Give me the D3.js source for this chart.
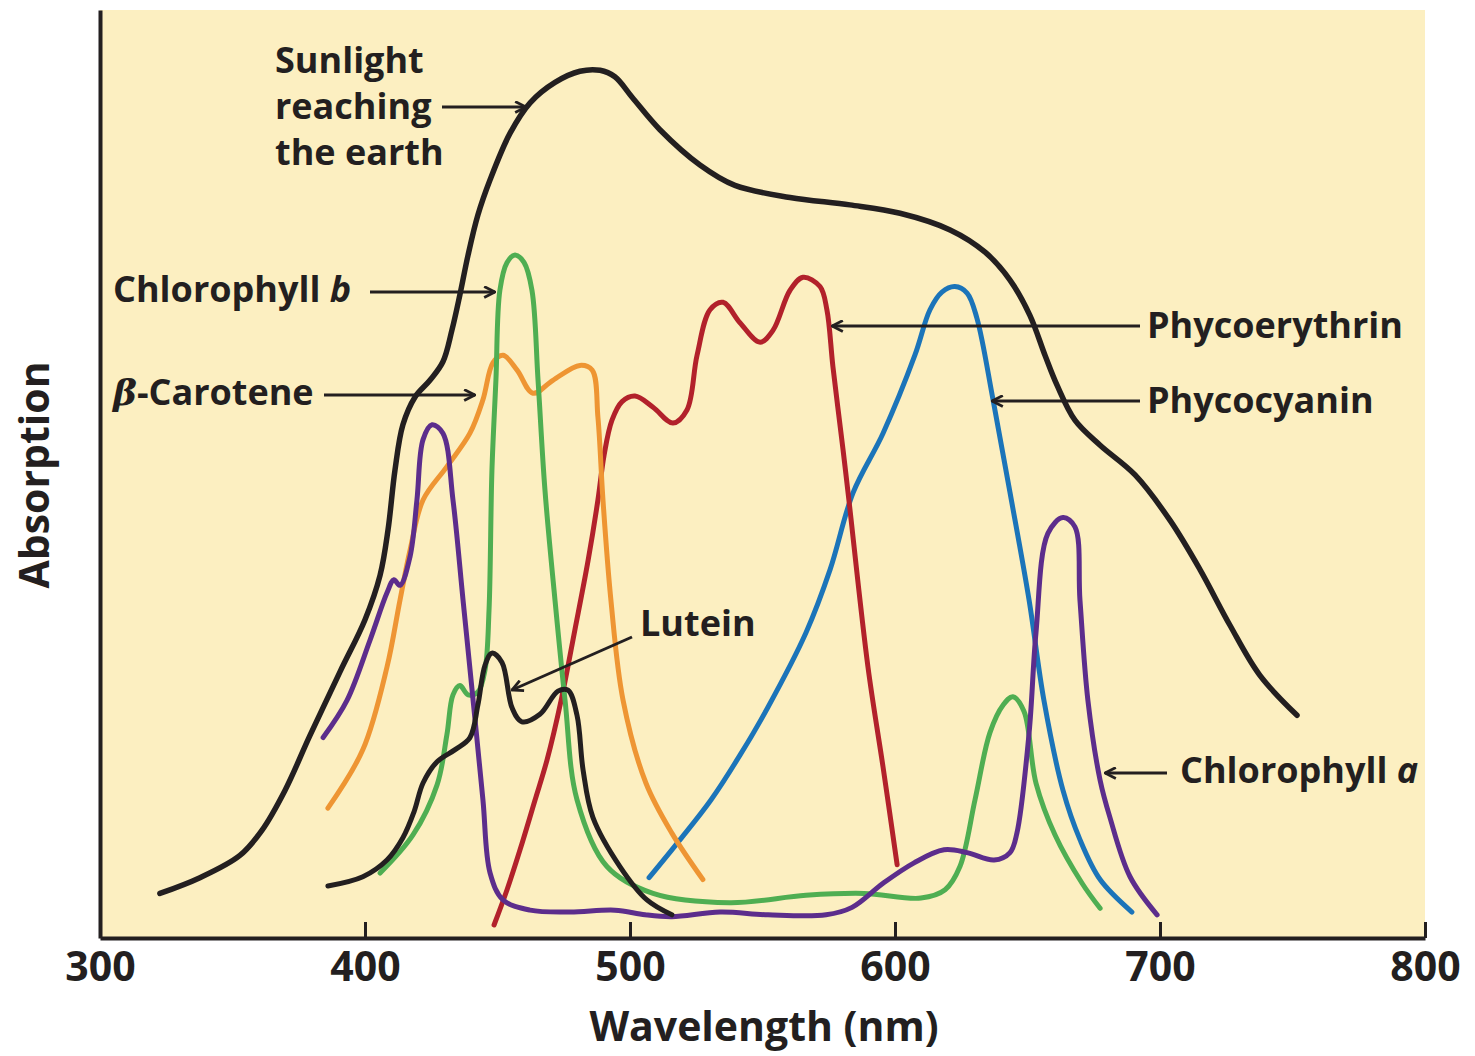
<!DOCTYPE html>
<html>
<head>
<meta charset="utf-8">
<script src="https://cdn.jsdelivr.net/npm/d3@7"></script>
<style>
    html, body { margin: 0; padding: 0; background: #ffffff; }
    svg { display: block; }
    text { font-family: "Open Sans", "Noto Sans", sans-serif; font-weight: 700; fill: #231f20; }
</style>
</head>
<body>
<svg id="chart" width="1475" height="1056"></svg>
<script>
    'use strict';

    // wavelength (nm), relative absorption (0-100)
    var sunlight = [
        [322.6, 4.8], [337.7, 6.5], [352.8, 8.9], [361.1, 11.6], [369.8, 15.9], [379.2, 21.8],
        [390.6, 28.7], [400.0, 34.3], [405.7, 39.1], [408.7, 44.0], [411.3, 50.4], [414.3, 55.3],
        [418.9, 58.3], [424.5, 60.1], [429.4, 62.1], [432.8, 65.5], [435.8, 69.3], [438.9, 73.6],
        [442.6, 77.9], [447.2, 81.7], [454.7, 86.7], [462.3, 90.0], [471.7, 92.2], [481.1, 93.4],
        [488.7, 93.5], [494.3, 92.8], [500.8, 90.6], [511.3, 87.1], [526.4, 83.3], [539.6, 81.1],
        [560.4, 79.8], [583.0, 79.0], [601.9, 78.1], [620.8, 76.3], [634.0, 73.9], [643.4, 70.9],
        [650.9, 67.1], [656.6, 62.8], [661.1, 59.6], [667.9, 55.8], [677.4, 53.1], [690.6, 49.9],
        [703.8, 45.0], [715.1, 39.7], [726.4, 33.7], [737.7, 28.3], [751.7, 24.0]
    ];
    var lutein = [
        [386.0, 5.6], [399.2, 6.6], [408.3, 8.4], [414.3, 10.8], [418.5, 13.6], [421.9, 16.7],
        [427.2, 19.0], [434.0, 20.3], [439.6, 21.6], [442.6, 25.1], [445.3, 29.4], [447.9, 30.7],
        [451.7, 29.7], [455.5, 24.8], [459.2, 23.3], [466.0, 24.1], [472.8, 26.6], [476.6, 26.7],
        [480.0, 24.0], [482.3, 18.1], [486.0, 13.0], [496.2, 7.7], [506.4, 4.1], [515.8, 2.5]
    ];
    var chlorophyllB = [
        [405.7, 7.0], [418.1, 11.1], [427.2, 16.5], [430.9, 21.9], [433.2, 26.2], [435.8, 27.2],
        [438.9, 26.2], [442.6, 26.5], [445.3, 28.9], [446.8, 35.3], [447.9, 50.4], [449.4, 60.1],
        [450.9, 69.8], [453.6, 72.8], [456.6, 73.6], [460.0, 72.8], [463.0, 69.8], [465.3, 60.1],
        [467.9, 48.3], [471.7, 36.4], [475.5, 25.6], [480.0, 14.9], [491.3, 7.7], [508.7, 4.8],
        [537.7, 3.8], [566.4, 4.6], [588.3, 4.8], [609.8, 4.3], [618.9, 5.2], [624.5, 7.7],
        [630.2, 14.9], [635.8, 22.1], [640.8, 25.1], [644.5, 26.0], [648.7, 24.4], [653.2, 16.7],
        [660.4, 11.1], [670.6, 5.9], [677.4, 3.2]
    ];
    var betaCarotene = [
        [386.0, 14.0], [399.2, 20.3], [408.3, 29.2], [413.2, 36.4], [417.0, 41.8], [421.9, 47.2],
        [430.9, 50.8], [439.6, 54.4], [444.5, 58.0], [448.3, 62.0], [452.1, 62.8], [457.4, 61.2],
        [463.4, 58.7], [470.9, 60.1], [481.1, 61.7], [485.7, 61.2], [487.9, 56.1], [489.8, 47.2],
        [492.8, 36.4], [497.4, 25.6], [506.0, 16.7], [515.8, 11.3], [527.5, 6.3]
    ];
    var chlorophyllA = [
        [384.2, 21.6], [393.2, 25.6], [401.9, 32.1], [408.3, 37.2], [410.9, 38.6], [413.2, 38.0],
        [417.0, 41.1], [419.6, 47.2], [421.9, 53.7], [425.3, 55.3], [429.4, 54.4], [433.2, 47.2],
        [437.0, 36.4], [440.8, 25.6], [444.5, 14.9], [447.2, 7.0], [452.1, 4.1], [462.3, 3.0],
        [477.4, 2.8], [494.3, 3.0], [505.7, 2.5], [515.8, 2.3], [534.0, 2.8], [552.1, 2.5],
        [574.0, 2.5], [583.8, 3.3], [595.5, 5.9], [607.2, 8.1], [618.5, 9.5], [627.2, 9.2],
        [637.4, 8.4], [643.4, 9.2], [646.0, 11.3], [650.6, 22.1], [653.2, 32.9], [657.7, 43.6],
        [663.4, 45.3], [667.9, 44.3], [669.8, 36.4], [672.8, 25.6], [677.4, 17.0], [681.1, 13.0],
        [688.7, 6.6], [698.9, 2.5]
    ];
    var phycoerythrin = [
        [448.7, 1.4], [453.6, 5.2], [458.5, 9.5], [464.2, 14.9], [468.7, 19.2], [474.0, 25.6],
        [479.2, 33.2], [484.2, 40.7], [487.9, 47.2], [490.2, 52.0], [493.2, 55.8], [497.0, 57.8],
        [501.9, 58.4], [508.7, 57.2], [516.2, 55.5], [521.5, 56.9], [525.3, 62.8], [530.2, 67.7],
        [535.1, 68.5], [541.5, 66.3], [549.1, 64.2], [554.0, 65.5], [560.4, 69.8], [565.3, 71.2],
        [571.7, 70.2], [574.3, 67.7], [576.6, 61.5], [580.4, 52.6], [582.6, 47.2], [589.8, 29.2],
        [595.5, 18.4], [600.8, 7.9]
    ];
    var phycocyanin = [
        [507.2, 6.5], [518.9, 10.6], [530.6, 14.9], [541.5, 19.7], [552.1, 24.9], [566.4, 32.9],
        [575.5, 39.7], [584.2, 48.0], [595.5, 54.4], [607.5, 62.8], [613.2, 67.7], [617.7, 69.6],
        [622.6, 70.2], [627.2, 69.5], [630.9, 66.8], [637.0, 58.0], [643.4, 48.0], [650.6, 36.4],
        [656.2, 25.6], [663.4, 15.9], [669.8, 10.6], [677.4, 6.3], [689.4, 2.8]
    ];

    var xTicks = [300, 400, 500, 600, 700, 800];

    var COLORS = {
        black: '#231f20',
        green: '#4fae52',
        orange: '#ee9533',
        red: '#b2212b',
        blue: '#1b74b9',
        purple: '#5c2d8c',
        background: '#fcefc1'
    };

    var PLOT = { left: 100, right: 1425, top: 10, bottom: 938 };

    var svg = d3.select('#chart');

    var x = d3.scaleLinear().domain([300, 800]).range([PLOT.left, PLOT.right]);
    var y = d3.scaleLinear().domain([0, 100]).range([PLOT.bottom, PLOT.top]);

    svg.append('rect')
        .attr('x', PLOT.left)
        .attr('y', PLOT.top)
        .attr('width', PLOT.right - PLOT.left)
        .attr('height', PLOT.bottom - PLOT.top)
        .attr('fill', COLORS.background);

    svg.append('defs').append('marker')
        .attr('id', 'arrow')
        .attr('viewBox', '0 0 12 12')
        .attr('refX', 11)
        .attr('refY', 6)
        .attr('markerWidth', 13)
        .attr('markerHeight', 13)
        .attr('markerUnits', 'userSpaceOnUse')
        .attr('orient', 'auto')
        .append('path')
        .attr('d', 'M1,1 L11,6 L1,11')
        .attr('fill', 'none')
        .attr('stroke', COLORS.black)
        .attr('stroke-width', 2.6);

    var line = d3.line()
        .x(function (d) { return x(d[0]); })
        .y(function (d) { return y(d[1]); })
        .curve(d3.curveCatmullRom.alpha(0.5));

    function drawCurve(data, color, width) {
        svg.append('path')
            .datum(data)
            .attr('d', line)
            .attr('fill', 'none')
            .attr('stroke', color)
            .attr('stroke-width', width)
            .attr('stroke-linecap', 'round')
            .attr('stroke-linejoin', 'round');
    }

    drawCurve(sunlight, COLORS.black, 5.5);
    drawCurve(phycocyanin, COLORS.blue, 5);
    drawCurve(phycoerythrin, COLORS.red, 5);
    drawCurve(betaCarotene, COLORS.orange, 5);
    drawCurve(chlorophyllB, COLORS.green, 5);
    drawCurve(chlorophyllA, COLORS.purple, 5);
    drawCurve(lutein, COLORS.black, 5);

    // axes
    var xAxis = d3.axisBottom(x)
        .tickValues(xTicks)
        .tickSize(-16)
        .tickSizeOuter(0)
        .tickPadding(14);

    var gx = svg.append('g')
        .attr('transform', 'translate(0,' + PLOT.bottom + ')')
        .call(xAxis);
    gx.select('.domain').attr('stroke', COLORS.black).attr('stroke-width', 4);
    gx.selectAll('.tick line').attr('stroke', COLORS.black).attr('stroke-width', 3);
    gx.selectAll('.tick text')
        .attr('fill', COLORS.black)
        .style('font-size', '41px')
        .style('font-family', '"Open Sans", sans-serif')
        .style('font-weight', 700);

    var gy = svg.append('g')
        .attr('transform', 'translate(' + PLOT.left + ',0)')
        .call(d3.axisLeft(y).tickValues([]).tickSizeOuter(0));
    gy.select('.domain').attr('stroke', COLORS.black).attr('stroke-width', 4);

    svg.append('text')
        .attr('x', 764)
        .attr('y', 1041)
        .attr('text-anchor', 'middle')
        .style('font-size', '41px')
        .text('Wavelength (nm)');

    svg.append('text')
        .attr('transform', 'translate(49,475) rotate(-90)')
        .attr('text-anchor', 'middle')
        .style('font-size', '41px')
        .text('Absorption');

    // labels and arrows
    function arrow(x1, y1, x2, y2) {
        svg.append('line')
            .attr('x1', x1).attr('y1', y1)
            .attr('x2', x2).attr('y2', y2)
            .attr('stroke', COLORS.black)
            .attr('stroke-width', 3)
            .attr('marker-end', 'url(#arrow)');
    }

    function label(xPos, yPos, parts) {
        var t = svg.append('text')
            .attr('x', xPos)
            .attr('y', yPos)
            .style('font-size', '36px');
        parts.forEach(function (p) {
            t.append('tspan')
                .style('font-style', p.italic ? 'italic' : 'normal')
                .style('font-family', p.serif ? '"DejaVu Serif", serif' : null)
                .text(p.text);
        });
    }

    label(275, 73, [{ text: 'Sunlight' }]);
    label(275, 119, [{ text: 'reaching' }]);
    label(275, 165, [{ text: 'the earth' }]);
    arrow(442, 107, 526, 107);

    label(113, 302, [{ text: 'Chlorophyll ' }, { text: 'b', italic: true }]);
    arrow(370, 292, 495, 292);

    label(113, 405, [{ text: '\u03b2', italic: true, serif: true }, { text: '-Carotene' }]);
    arrow(324, 395, 475, 395);

    label(1147, 338, [{ text: 'Phycoerythrin' }]);
    arrow(1140, 326, 832, 326);

    label(1147, 413, [{ text: 'Phycocyanin' }]);
    arrow(1140, 401, 992, 401);

    label(640, 636, [{ text: 'Lutein' }]);
    arrow(632, 637, 512, 690);

    label(1180, 783, [{ text: 'Chlorophyll ' }, { text: 'a', italic: true }]);
    arrow(1167, 773, 1105, 773);
</script>
</body>
</html>
